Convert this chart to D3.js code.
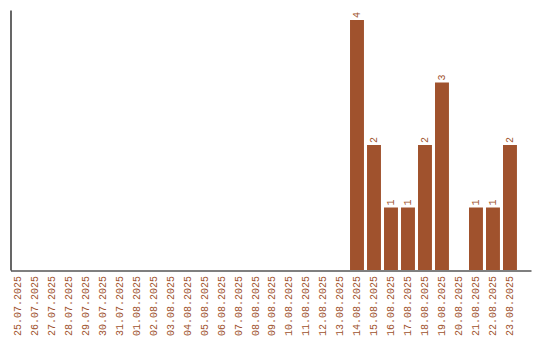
<!DOCTYPE html>
<html><head><meta charset="utf-8">
<script src="https://cdn.jsdelivr.net/npm/d3@7"></script>
<style>body{margin:0;background:#fff}svg{display:block}text{font-family:"Liberation Mono",monospace;font-size:10px;fill:#a0522d}</style>
</head><body><svg id="c" width="540" height="340"></svg>
<script>
const dates = ["25.07.2025","26.07.2025","27.07.2025","28.07.2025","29.07.2025","30.07.2025","31.07.2025","01.08.2025","02.08.2025","03.08.2025","04.08.2025","05.08.2025","06.08.2025","07.08.2025","08.08.2025","09.08.2025","10.08.2025","11.08.2025","12.08.2025","13.08.2025","14.08.2025","15.08.2025","16.08.2025","17.08.2025","18.08.2025","19.08.2025","20.08.2025","21.08.2025","22.08.2025","23.08.2025"];
const counts = [0,0,0,0,0,0,0,0,0,0,0,0,0,0,0,0,0,0,0,0,4,2,1,1,2,3,0,1,1,2];
const color = "#a0522d";
const svg = d3.select("#c");
const x = d3.scaleBand().domain(dates).range([7,520]).padding(0.18);
const y = d3.scaleLinear().domain([0,4.16]).range([270,10]);
const xl = d3.scaleLinear().domain([0,1]).range([10.5,531]);

svg.selectAll("rect.bar").data(dates).enter().append("rect")
  .attr("x", d=>x(d)).attr("width", x.bandwidth())
  .attr("y", (d,i)=>y(counts[i])).attr("height",(d,i)=>y(0)-y(counts[i]))
  .attr("fill", color);

svg.selectAll("text.val").data(dates.filter((d,i)=>counts[i]>0)).enter().append("text")
  .attr("transform", d=>{const v=counts[dates.indexOf(d)];return `translate(${x(d)+x.bandwidth()/2+3.5},${y(v)-2}) rotate(-90)`;})
  .text(d=>counts[dates.indexOf(d)]);

svg.append("g").attr("transform","translate(10.5,0)")
  .call(d3.axisLeft(y).ticks(0).tickSize(0).tickSizeOuter(0))
  .call(g=>g.select(".domain").attr("stroke","#000").attr("stroke-width",1.2));
svg.append("g").attr("transform","translate(0,270.5)")
  .call(d3.axisBottom(xl).ticks(0).tickSize(0).tickSizeOuter(0))
  .call(g=>g.select(".domain").attr("stroke","#000").attr("stroke-width",1.2));

svg.selectAll("text.lab").data(dates).enter().append("text")
  .attr("text-anchor","end")
  .attr("transform", d=>`translate(${x(d)+x.bandwidth()/2+3.5},276) rotate(-90)`)
  .text(d=>d);
</script></body></html>
